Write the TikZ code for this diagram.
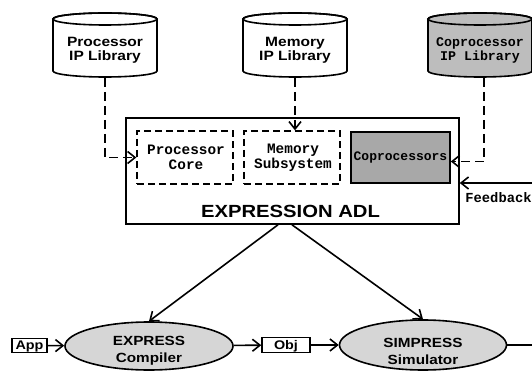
\documentclass[tikz,border=0pt]{standalone}
\usepackage{fontspec}
\usetikzlibrary{arrows.meta,shapes.geometric,calc}
\newfontfamily\hvfont[FakeStretch=1.15]{Liberation Sans}
\newfontfamily\courfont{Liberation Mono}
\definecolor{ellgray}{gray}{0.84}
\definecolor{cylgray}{gray}{0.74}
\definecolor{cpgray}{gray}{0.66}
\tikzset{
  conn/.style={-{Straight Barb[length=7.5pt,width=12pt]}},
  dconn/.style={conn, dash pattern=on 9pt off 5pt},
  solidbox/.style={draw, inner sep=0pt},
  dashbox/.style={draw, inner sep=0pt, dash pattern=on 7pt off 4pt, line width=1.3pt},
  ellnode/.style={draw, ellipse, fill=ellgray, inner sep=0pt},
  sanslbl/.style={font=\hvfont\bfseries\fontsize{13.5}{14}\selectfont, align=center, inner sep=0pt},
  monolbl/.style={font=\courfont\bfseries\fontsize{14.4}{15}\selectfont, align=center, inner sep=0pt},
  hidden/.style={inner sep=0pt, minimum width=104pt, minimum height=58pt}
}
\newcommand\dbcyl[3]{% name, cx, fill
  \path[draw, fill=#3] (#2-52,19) -- (#2-52,71)
     arc[start angle=180, end angle=0, x radius=52, y radius=6]
     -- (#2+52,19) arc[start angle=0, end angle=-180, x radius=52, y radius=6] -- cycle;
  \draw (#2,19) ellipse[x radius=52, y radius=6];
  \node[hidden] (#1) at (#2,48) {};
}
\begin{document}
\begin{tikzpicture}[x=1pt,y=-1pt,line width=1.6pt]
\useasboundingbox (0,0) rectangle (532,371);

% libraries
\dbcyl{pl}{105}{white}
\node[sanslbl] (plt) at (105,50.5) {Processor\\IP Library};
\dbcyl{ml}{295}{white}
\node[sanslbl] (mlt) at (295,50.5) {Memory\\IP Library};
\dbcyl{cl}{480}{cylgray}
\node[monolbl, font=\courfont\bfseries\fontsize{13.3}{14}\selectfont] (clt) at (480,50.5) {Coprocessor\\IP Library};

% ADL box
\node[solidbox, minimum width=333pt, minimum height=106pt] (adl) at (292.5,171) {};
\node[sanslbl, font=\hvfont\bfseries\fontsize{17.6}{17}\selectfont] (adlt) at (290.5,211.5) {EXPRESSION ADL};
\node[dashbox, minimum width=96pt, minimum height=53pt] (pc) at (185,157.5) {};
\node[monolbl] (pct) at (186,157.5) {Processor\\Core};
\node[dashbox, minimum width=96pt, minimum height=53pt] (ms) at (292,157.5) {};
\node[monolbl] (mst) at (293,157.5) {Memory\\Subsystem};
\node[solidbox, fill=cpgray, minimum width=99pt, minimum height=51pt] (cp) at (400.5,157.5) {};
\node[monolbl, font=\courfont\bfseries\fontsize{13}{13}\selectfont] (cpt) at (400.5,157.5) {Coprocessors};

% dashed library connectors
\draw[dconn] (pl.south) |- (pc.west);
\draw[dconn] (ml.south) -- (ml.south |- ms.north);
\coordinate (cpin) at ($(cp.east)+(0,4)$);
\draw[dconn] ($(cl.south)+(4,0)$) |- (cpin);

% feedback
\coordinate (fbR) at (532,183);
\draw[conn] (fbR) -- (fbR -| adl.east);
\node[monolbl, font=\courfont\bfseries\fontsize{13.8}{13}\selectfont] (fb) at (498.5,198) {Feedback};

% bottom flow
\node[solidbox, minimum width=35pt, minimum height=14pt] (app) at (29.5,345.5) {};
\node[sanslbl, font=\hvfont\bfseries\fontsize{12.5}{12.5}\selectfont] (appt) at (29.5,346) {App};
\node[ellnode, minimum width=168pt, minimum height=48pt] (comp) at (149,346) {};
\node[sanslbl, font=\hvfont\bfseries\fontsize{13.3}{17}\selectfont] (compt) at (149,351) {EXPRESS\\Compiler};
\node[solidbox, minimum width=48pt, minimum height=15pt] (obj) at (286,345) {};
\node[sanslbl, font=\hvfont\bfseries\fontsize{12.5}{12.5}\selectfont] (objt) at (286,346) {Obj};
\node[ellnode, minimum width=167pt, minimum height=50pt] (sim) at (423,345) {};
\node[sanslbl, font=\hvfont\bfseries\fontsize{13.3}{17}\selectfont] (simt) at (423,351) {SIMPRESS\\Simulator};
\coordinate (simR) at (532,345);

\draw[conn] (app) -- (comp);
\draw[conn] (comp) -- (obj);
\draw[conn] (obj) -- (sim);
\draw (sim.east) -- (simR);

\coordinate (adlA) at ($(adl.south)+(-14.5,0)$);
\coordinate (adlB) at ($(adl.south)+(-0.5,0)$);
\draw[conn] (adlA) -- (comp.north);
\draw[conn] (adlB) -- (sim.north);
\end{tikzpicture}
\end{document}
